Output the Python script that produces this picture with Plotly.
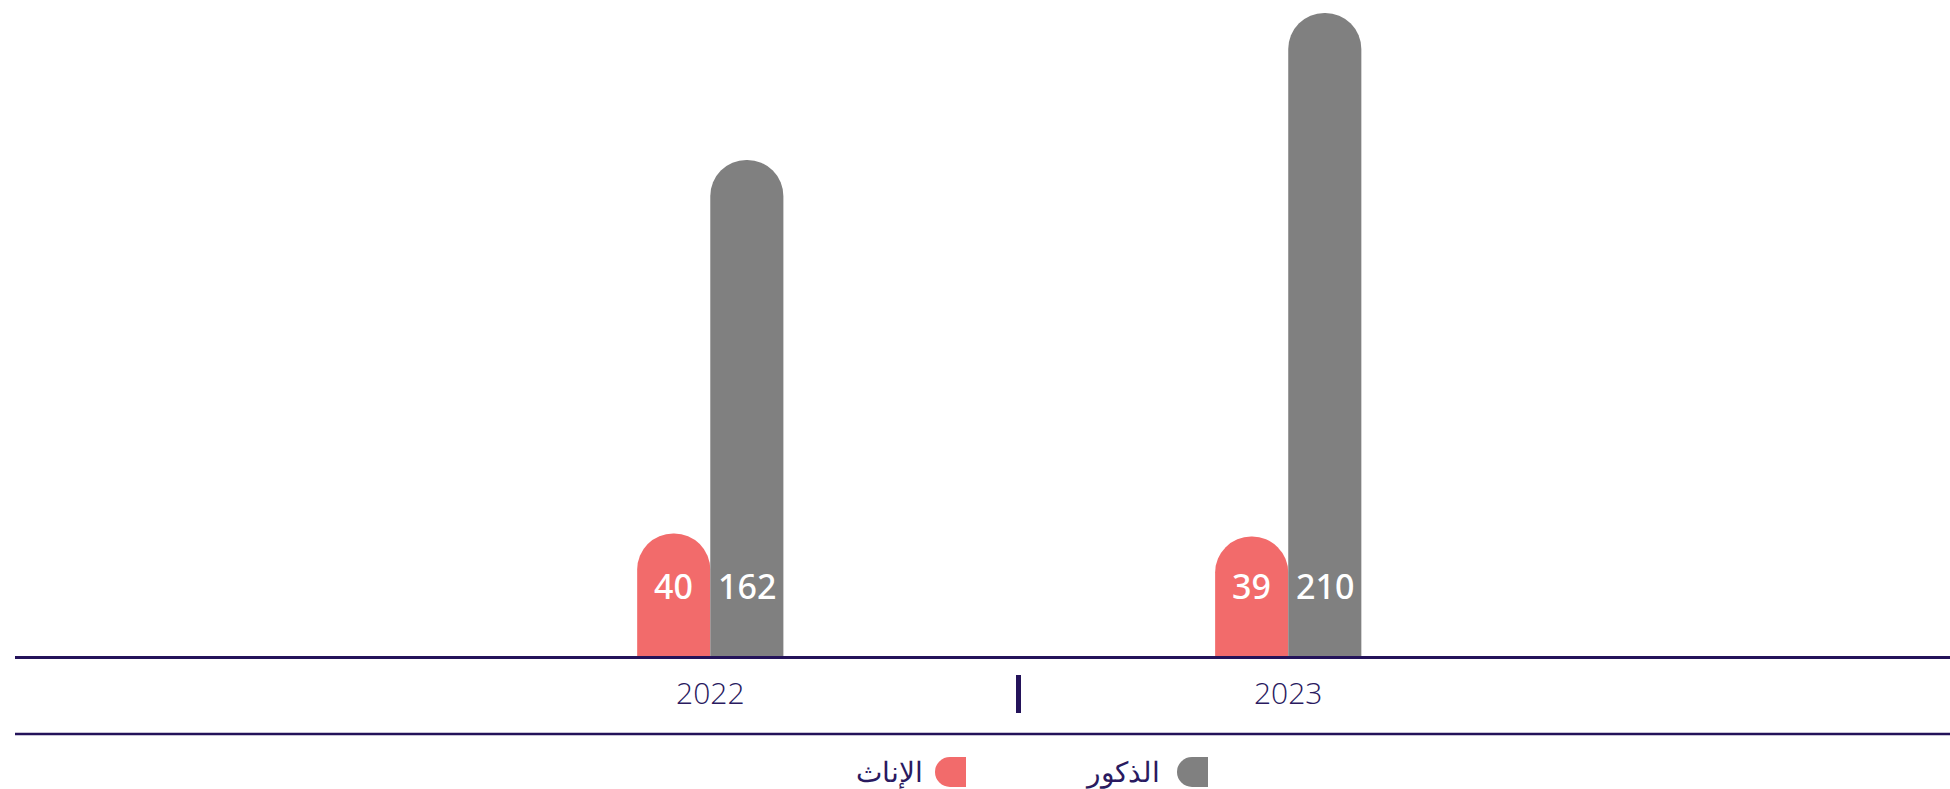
import plotly.graph_objects as go

# Data
years = ["2022", "2023"]
female_counts = [40, 39]
male_counts = [162, 210]
series_names = ["الإناث", "الذكور"]

FEMALE_COLOR = "#F26B6B"
MALE_COLOR = "#808080"
NAVY = "#24135A"
TEXT_NAVY = "#2A1A60"

W, H = 1950, 789
M_L, M_R, M_T, M_B = 15, 0, 13, 133
PLOT_H = H - M_T - M_B
PLOT_W = W - M_L - M_R
BARGAP = 0.747


def py(px):
    return (H - M_B - px) / PLOT_H


def px_x(px):
    """Convert a pixel column into paper x."""
    return (px - M_L) / PLOT_W


fig = go.Figure()
fig.add_trace(go.Bar(
    x=years, y=female_counts, name=series_names[0],
    marker=dict(color=FEMALE_COLOR, cornerradius="50%", line=dict(width=0)),
    showlegend=False, hoverinfo="x+y",
))
fig.add_trace(go.Bar(
    x=years, y=male_counts, name=series_names[1],
    marker=dict(color=MALE_COLOR, cornerradius="50%", line=dict(width=0)),
    showlegend=False, hoverinfo="x+y",
))

# value labels sitting near the foot of each bar
half = (1 - BARGAP) / 4
annotations = []
for i, (f, m) in enumerate(zip(female_counts, male_counts)):
    for xpos, val in ((i - half, f), (i + half, m)):
        annotations.append(dict(
            x=xpos, y=0, xref="x", yref="y", text=str(val), showarrow=False,
            yanchor="middle", yshift=70,
            font=dict(family="Noto Sans", size=34, color="white", weight=500),
        ))

# custom right-to-left legend
legend_items = [
    (series_names[1], MALE_COLOR, 1192, 1162),
    (series_names[0], FEMALE_COLOR, 950, 925),
]
shapes = []
for name, color, cx, text_right in legend_items:
    shapes.append(dict(
        type="circle", xref="paper", yref="paper",
        xsizemode="pixel", ysizemode="pixel",
        xanchor=px_x(cx), yanchor=py(772),
        x0=-15, x1=15, y0=-15, y1=15,
        fillcolor=color, line=dict(width=0), layer="above",
    ))
    shapes.append(dict(
        type="rect", xref="paper", yref="paper",
        xsizemode="pixel", ysizemode="pixel",
        xanchor=px_x(cx), yanchor=py(772),
        x0=0, x1=16, y0=-15, y1=15,
        fillcolor=color, line=dict(width=0), layer="above",
    ))
    annotations.append(dict(
        x=px_x(text_right), y=py(772), xref="paper", yref="paper",
        xanchor="right", yanchor="middle", text=name, showarrow=False,
        font=dict(family="DejaVu Sans ExtraLight, DejaVu Sans", size=28,
                  color=TEXT_NAVY, weight=200),
    ))

# rule under the year labels
shapes.append(dict(
    type="line", xref="paper", yref="paper",
    x0=0, x1=1, y0=py(734), y1=py(734),
    line=dict(color=NAVY, width=2.5),
))
# short divider between the two years
shapes.append(dict(
    type="line", xref="paper", yref="paper",
    x0=px_x(1018.5), x1=px_x(1018.5), y0=py(675), y1=py(713),
    line=dict(color=NAVY, width=5),
))

fig.update_layout(
    width=W, height=H,
    margin=dict(l=M_L, r=M_R, t=M_T, b=M_B, pad=0),
    paper_bgcolor="white", plot_bgcolor="white",
    barmode="group", bargap=BARGAP, bargroupgap=0,
    shapes=shapes, annotations=annotations,
    xaxis=dict(
        type="category", range=[-1.203, 2.145],
        showline=True, linecolor=NAVY, linewidth=2.5,
        showgrid=False, zeroline=False, ticks="",
        tickfont=dict(family="Open Sans", size=30, color=TEXT_NAVY, weight=300),
        ticklabelstandoff=9, fixedrange=True,
    ),
    yaxis=dict(
        range=[0, 210], visible=False, showgrid=False, zeroline=False,
        fixedrange=True,
    ),
)

fig.write_html("out.html")
